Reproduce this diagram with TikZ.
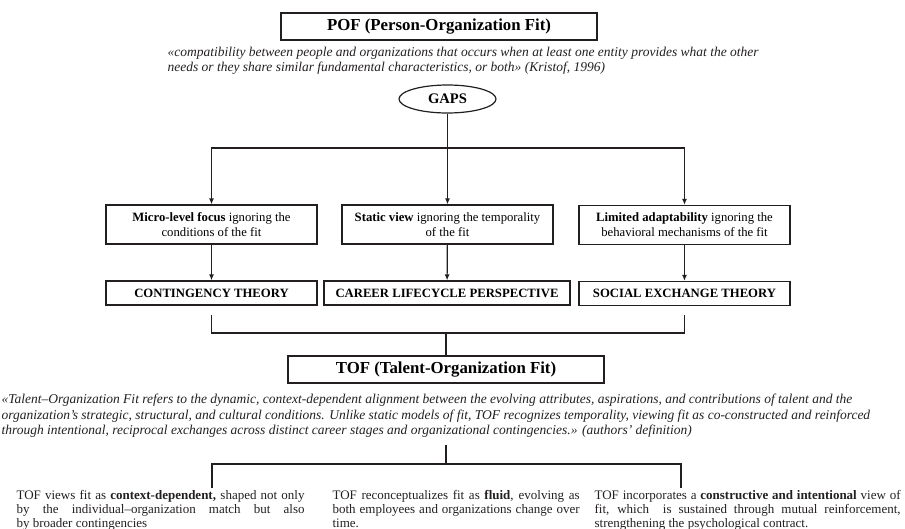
\documentclass[tikz,border=0pt]{standalone}
\usepackage{fontspec}
\setmainfont{Liberation Serif}
\usepackage{tikz}
\usetikzlibrary{shapes.geometric}
\usetikzlibrary{arrows.meta}
\usetikzlibrary{positioning}
\definecolor{ink}{RGB}{35,31,32}

\begin{document}
\begin{tikzpicture}[x=1pt, y=-1pt, line width=1.2pt, draw=ink,
    title/.style={draw=ink, line width=1.4pt, minimum width=316pt, minimum height=27pt, inner sep=0pt, font=\fontsize{16.8}{20}\selectfont\bfseries},
    gapbox/.style={draw=ink, line width=1.2pt, minimum width=211pt, minimum height=39pt, inner sep=0pt, align=center, font=\fontsize{12.7}{15}\selectfont},
    theory/.style={draw=ink, line width=1.2pt, minimum height=24pt, inner sep=0pt, font=\fontsize{12.7}{15}\selectfont\bfseries},
    quote/.style={anchor=north west, inner sep=0pt, align=left, text=ink, font=\fontsize{13.5}{15.5}\selectfont\itshape},
    column/.style={anchor=north west, inner sep=0pt, align=justify, text=ink, font=\fontsize{13}{14}\selectfont},
    arr/.style={-{Latex[length=6pt,width=5pt]}}]
    \useasboundingbox (0,0) rectangle (905,528);
    \node[title] (pof) at (439,26.5) {POF (Person-Organization Fit)};
    \node[quote] (pofdef) at (167,46.5) {«compatibility between people and organizations that occurs when at least one entity provides what the other\\needs or they share similar fundamental characteristics, or both» (Kristof, 1996)};
    \node[ellipse, draw=ink, line width=1.2pt, minimum width=97pt, minimum height=28pt, inner sep=0pt, font=\fontsize{14.6}{16}\selectfont\bfseries] (gaps) at (447.5,99) {GAPS};
    \coordinate (hub) at (447.5,148);
    \node[gapbox] (micro) at (211.5,224.5) {\textbf{Micro-level focus} ignoring the\\conditions of the fit};
    \node[gapbox] (static) at (447.5,224.5) {\textbf{Static view} ignoring the temporality\\of the fit};
    \node[gapbox] (limited) at (684.5,225) {\textbf{Limited adaptability} ignoring the\\behavioral mechanisms of the fit};
    \node[theory, minimum width=211pt] (contingency) at (211.5,293) {CONTINGENCY THEORY};
    \node[theory, minimum width=246pt] (lifecycle) at (447,293) {CAREER LIFECYCLE PERSPECTIVE};
    \node[theory, minimum width=211pt] (exchange) at (684.5,293.5) {SOCIAL EXCHANGE THEORY};
    \coordinate (merge) at (446,333);
    \node[title] (tof) at (446,369.5) {TOF (Talent-Organization Fit)};
    \node[quote] (tofdef) at (1,393.5) {«Talent–Organization Fit refers to the dynamic, context-dependent alignment between the evolving attributes, aspirations, and contributions of talent and the\\organization’s strategic, structural, and cultural conditions. Unlike static models of fit, TOF recognizes temporality, viewing fit as co-constructed and reinforced\\through intentional, reciprocal exchanges across distinct career stages and organizational contingencies.» (authors’ definition)};
    \coordinate (stem) at (446,445);
    \coordinate (split) at (446,464);
    \coordinate (dropL) at (212,488);
    \coordinate (dropR) at (681,488);
    \node[column, text width=288pt] (context) at (16,490) {\hyphenpenalty=10000\relax TOF views fit as \textbf{context-dependent,} shaped not only\linebreak by the individual–organization match but also\linebreak by broader contingencies};
    \node[column, text width=247pt] (fluid) at (332,490) {\hyphenpenalty=10000\relax TOF reconceptualizes fit as \textbf{fluid}, evolving as\linebreak both employees and organizations change over\linebreak time.};
    \node[column, text width=306pt] (intent) at (594,490) {\hyphenpenalty=10000\relax TOF incorporates a \textbf{constructive and intentional} view of\linebreak fit, which\ \ is sustained through mutual reinforcement,\linebreak strengthening the psychological contract.};
    \draw[line width=1.8pt] (gaps) -- (hub);
    \draw[arr] (hub) -| (micro);
    \draw[arr] (hub) -- (static);
    \draw[arr] (hub) -| (limited);
    \draw[arr] (micro) -- (contingency);
    \draw[arr] (static) -- (lifecycle);
    \draw[arr] (limited) -- (exchange);
    \draw ([yshift=-9pt]contingency.south) |- (merge) -| ([yshift=-9pt]exchange.south);
    \draw[line width=1.8pt] (merge) -- (tof);
    \draw[line width=1.8pt] (stem) -- (split);
    \draw (dropL) |- (split) -| (dropR);
\end{tikzpicture}
\end{document}
